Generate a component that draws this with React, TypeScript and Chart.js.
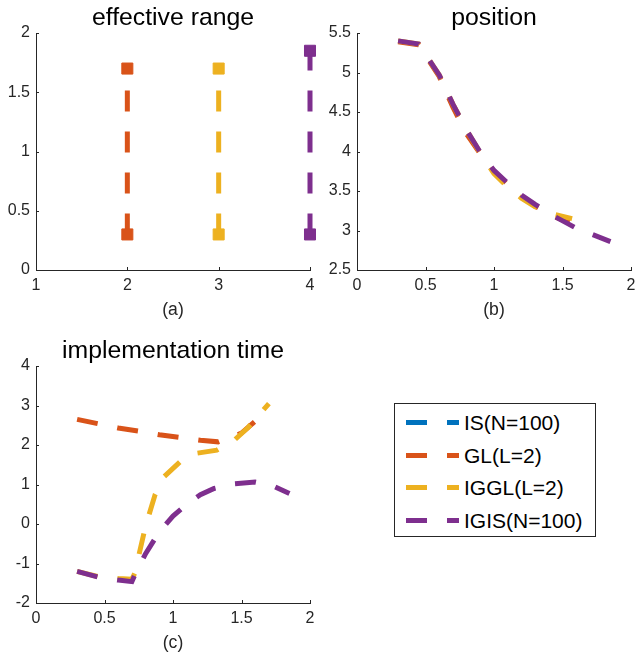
import React, { useEffect, useRef } from 'react';
import { Chart, registerables } from 'chart.js';

Chart.register(...registerables);

const FONT = '"Liberation Sans", Arial, Helvetica, sans-serif';
const AXIS = '#262626';

const SERIES_NAMES = ['IS(N=100)', 'GL(L=2)', 'IGGL(L=2)', 'IGIS(N=100)'];
const SERIES_COLORS = ['#0072BD', '#D95319', '#EDB120', '#7E2F8E'];

// (a) effective range
const rangeGLx = [2, 2];
const rangeGLy = [0.3, 1.7];
const rangeIGGLx = [3, 3];
const rangeIGGLy = [0.3, 1.7];
const rangeIGISx = [4, 4];
const rangeIGISy = [0.3, 1.85];

// (b) position
const posGLx = [0.3, 0.45, 0.6, 0.7, 0.8, 0.9, 1.0, 1.1, 1.2, 1.3, 1.45, 1.55];
const posGLy = [5.39, 5.35, 4.95, 4.56, 4.22, 3.97, 3.75, 3.58, 3.43, 3.31, 3.17, 3.1];
const posIGGLx = [0.3, 0.45, 0.6, 0.7, 0.8, 0.9, 1.0, 1.1, 1.2, 1.3, 1.45, 1.57];
const posIGGLy = [5.4, 5.36, 4.97, 4.6, 4.27, 3.98, 3.72, 3.55, 3.41, 3.3, 3.2, 3.15];
const posIGISx = [0.3, 0.45, 0.6, 0.7, 0.8, 0.9, 1.0, 1.1, 1.2, 1.3, 1.45, 1.6, 1.85];
const posIGISy = [5.4, 5.36, 4.97, 4.6, 4.27, 3.99, 3.76, 3.6, 3.45, 3.33, 3.17, 3.03, 2.86];

// (c) implementation time
const timeGLx = [0.3, 0.45, 0.6, 0.75, 0.9, 1.05, 1.2, 1.33, 1.5, 1.6];
const timeGLy = [2.65, 2.54, 2.43, 2.35, 2.26, 2.19, 2.12, 2.08, 2.3, 2.6];
const timeIGGLx = [0.3, 0.45, 0.6, 0.7, 0.72, 0.8, 0.87, 0.93, 1.05, 1.17, 1.32, 1.45, 1.55, 1.7];
const timeIGGLy = [-1.2, -1.33, -1.38, -1.4, -1.25, -0.05, 0.75, 1.18, 1.57, 1.79, 1.87, 2.13, 2.45, 3.05];
const timeIGISx = [0.3, 0.45, 0.6, 0.7, 0.72, 0.8, 0.9, 1.0, 1.1, 1.2, 1.3, 1.45, 1.6, 1.72, 1.85];
const timeIGISy = [-1.2, -1.34, -1.42, -1.46, -1.3, -0.75, -0.2, 0.2, 0.5, 0.74, 0.9, 1.02, 1.06, 0.98, 0.77];

const DASH = [21, 20];
const LINE_W = 5;

function zip(xs: number[], ys: number[]) {
  return xs.map((x, i) => ({ x, y: ys[i] }));
}

function lineDataset(label: string, color: string, xs: number[], ys: number[], order: number, markers = false) {
  return {
    label,
    data: zip(xs, ys),
    showLine: true,
    borderColor: color,
    backgroundColor: color,
    borderWidth: LINE_W,
    borderDash: DASH,
    tension: 0,
    order,
    clip: false as any,
    pointStyle: 'rect' as const,
    pointRadius: markers ? 7.8 : 0,
    pointBorderWidth: markers ? 1 : 0,
    pointBorderColor: color,
    pointBackgroundColor: color,
    pointHoverRadius: 0,
  };
}

const axesDecor = {
  id: 'axesDecor',
  beforeDatasetsDraw(chart: any) {
    const { ctx, chartArea, scales } = chart;
    ctx.save();
    ctx.strokeStyle = AXIS;
    ctx.lineWidth = 1;
    const xs = scales.x;
    xs.ticks.forEach((t: any) => {
      const px = Math.round(xs.getPixelForValue(t.value)) + 0.5;
      ctx.beginPath();
      ctx.moveTo(px, chartArea.bottom);
      ctx.lineTo(px, chartArea.bottom - 3);
      ctx.stroke();
    });
    const ys = scales.y;
    ys.ticks.forEach((t: any) => {
      const py = Math.round(ys.getPixelForValue(t.value)) + 0.5;
      ctx.beginPath();
      ctx.moveTo(chartArea.left, py);
      ctx.lineTo(chartArea.left + 3, py);
      ctx.stroke();
    });
    ctx.restore();
  },
  afterDraw(chart: any, _args: any, opts: any) {
    if (!opts || !opts.text) return;
    const { ctx, chartArea } = chart;
    ctx.save();
    ctx.fillStyle = '#000';
    ctx.font = `24.8px ${FONT}`;
    ctx.textAlign = 'center';
    ctx.textBaseline = 'alphabetic';
    ctx.fillText(opts.text, (chartArea.left + chartArea.right) / 2, chartArea.top - 8);
    ctx.restore();
  },
};

const fmt = (v: any) => String(Math.round(Number(v) * 100) / 100);

function makeConfig(
  datasets: any[],
  title: string,
  xLabel: string,
  xMin: number,
  xMax: number,
  xStep: number,
  yMin: number,
  yMax: number,
  yStep: number
): any {
  return {
    type: 'scatter',
    data: { datasets },
    plugins: [axesDecor],
    options: {
      animation: false,
      responsive: false,
      events: [],
      layout: { padding: { left: 0, top: 33, right: 20, bottom: 4 } },
      plugins: {
        legend: { display: false },
        tooltip: { enabled: false },
        title: { display: false },
        axesDecor: { text: title },
      },
      scales: {
        x: {
          type: 'linear',
          min: xMin,
          max: xMax,
          ticks: {
            stepSize: xStep,
            color: AXIS,
            font: { size: 16, family: FONT },
            padding: 6,
            maxRotation: 0,
            autoSkip: false,
            callback: fmt,
          },
          grid: { display: false, drawTicks: false },
          border: { display: true, color: AXIS, width: 1 },
          title: {
            display: true,
            text: xLabel,
            color: AXIS,
            font: { size: 17.6, family: FONT },
            padding: { top: 0, bottom: 5 },
          },
          afterFit: (s: any) => {
            s.height = 56;
          },
        },
        y: {
          type: 'linear',
          min: yMin,
          max: yMax,
          ticks: {
            stepSize: yStep,
            color: AXIS,
            font: { size: 16, family: FONT },
            padding: 6,
            autoSkip: false,
            callback: fmt,
          },
          grid: { display: false, drawTicks: false },
          border: { display: true, color: AXIS, width: 1 },
          afterFit: (s: any) => {
            s.width = 36;
          },
        },
      },
    },
  };
}

export default function App() {
  const refA = useRef<HTMLCanvasElement>(null);
  const refB = useRef<HTMLCanvasElement>(null);
  const refC = useRef<HTMLCanvasElement>(null);

  useEffect(() => {
    Chart.defaults.font.family = FONT;
    const cfgA = makeConfig(
      [
        lineDataset(SERIES_NAMES[1], SERIES_COLORS[1], rangeGLx, rangeGLy, 3, true),
        lineDataset(SERIES_NAMES[2], SERIES_COLORS[2], rangeIGGLx, rangeIGGLy, 2, true),
        lineDataset(SERIES_NAMES[3], SERIES_COLORS[3], rangeIGISx, rangeIGISy, 1, true),
      ],
      'effective range',
      '(a)',
      1, 4, 1,
      0, 2, 0.5
    );
    const cfgB = makeConfig(
      [
        lineDataset(SERIES_NAMES[1], SERIES_COLORS[1], posGLx, posGLy, 3),
        lineDataset(SERIES_NAMES[2], SERIES_COLORS[2], posIGGLx, posIGGLy, 2),
        lineDataset(SERIES_NAMES[3], SERIES_COLORS[3], posIGISx, posIGISy, 1),
      ],
      'position',
      '(b)',
      0, 2, 0.5,
      2.5, 5.5, 0.5
    );
    const cfgC = makeConfig(
      [
        lineDataset(SERIES_NAMES[1], SERIES_COLORS[1], timeGLx, timeGLy, 3),
        lineDataset(SERIES_NAMES[2], SERIES_COLORS[2], timeIGGLx, timeIGGLy, 2),
        lineDataset(SERIES_NAMES[3], SERIES_COLORS[3], timeIGISx, timeIGISy, 1),
      ],
      'implementation time',
      '(c)',
      0, 2, 0.5,
      -2, 4, 1
    );
    const charts = [
      new Chart(refA.current!, cfgA),
      new Chart(refB.current!, cfgB),
      new Chart(refC.current!, cfgC),
    ];
    return () => charts.forEach((c) => c.destroy());
  }, []);

  return (
    <div
      style={{
        position: 'absolute',
        left: 0,
        top: 0,
        width: 635,
        height: 658,
        overflow: 'hidden',
        background: '#fff',
        fontFamily: FONT,
      }}
    >
      <canvas ref={refA} width={330} height={330} style={{ position: 'absolute', left: 0, top: 0 }} />
      <canvas ref={refB} width={330} height={330} style={{ position: 'absolute', left: 321, top: 0 }} />
      <canvas ref={refC} width={330} height={330} style={{ position: 'absolute', left: 0, top: 333 }} />
      <div
        style={{
          position: 'absolute',
          left: 394,
          top: 403,
          width: 202,
          height: 134,
          boxSizing: 'border-box',
          border: `1px solid ${AXIS}`,
          background: '#fff',
        }}
      >
        {SERIES_NAMES.map((name, i) => {
          const cy = 18.5 + i * 32.5;
          return (
            <React.Fragment key={name}>
              <div
                style={{
                  position: 'absolute',
                  left: 11,
                  top: cy - LINE_W / 2,
                  width: 21,
                  height: LINE_W,
                  background: SERIES_COLORS[i],
                }}
              />
              <div
                style={{
                  position: 'absolute',
                  left: 52,
                  top: cy - LINE_W / 2,
                  width: 12,
                  height: LINE_W,
                  background: SERIES_COLORS[i],
                }}
              />
              <div
                style={{
                  position: 'absolute',
                  left: 69,
                  top: cy - 12.5,
                  height: 25,
                  lineHeight: '25px',
                  fontSize: 21,
                  color: '#000',
                  whiteSpace: 'nowrap',
                }}
              >
                {name}
              </div>
            </React.Fragment>
          );
        })}
      </div>
    </div>
  );
}
